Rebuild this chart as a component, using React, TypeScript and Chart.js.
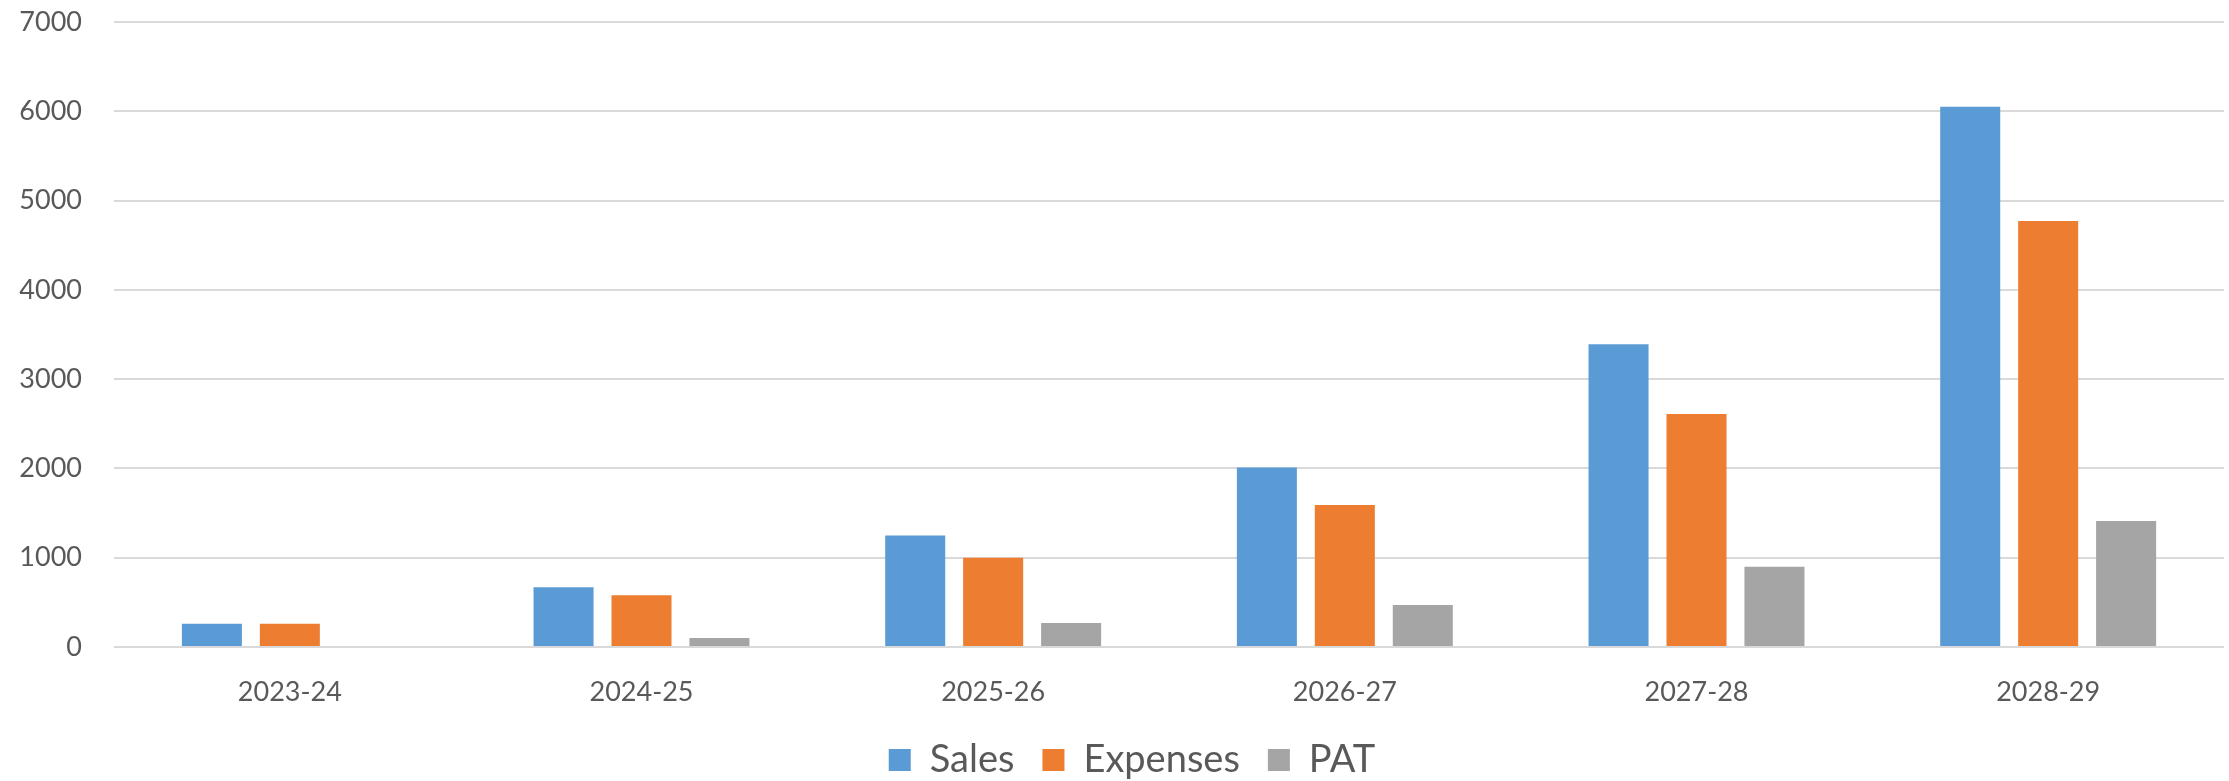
import React, { useEffect, useRef } from "react";
import { Chart, registerables } from "chart.js";

Chart.register(...registerables);

const categories = ["2023-24", "2024-25", "2025-26", "2026-27", "2027-28", "2028-29"];
const sales = [260, 670, 1250, 2010, 3390, 6050];
const expenses = [260, 580, 1000, 1590, 2610, 4770];
const pat = [0, 100, 270, 470, 900, 1410];
const yTicks = [0, 1000, 2000, 3000, 4000, 5000, 6000, 7000];

const TEXT = "#595959";
const FONT = "Lato";

const legendShift = {
  id: "legendShift",
  beforeDraw(chart: any) {
    if (chart.legend) {
      chart.legend.left = 40;
    }
  },
};

export default function App() {
  const ref = useRef<HTMLCanvasElement | null>(null);

  useEffect(() => {
    document.body.style.margin = "0";
    document.body.style.overflow = "hidden";
    const canvas = ref.current;
    if (!canvas) return;
    const chart = new Chart(canvas, {
      type: "bar",
      data: {
        labels: categories,
        datasets: [
          { label: "Sales", data: sales, backgroundColor: "#5B9BD5" },
          { label: "Expenses", data: expenses, backgroundColor: "#ED7D31" },
          { label: "PAT", data: pat, backgroundColor: "#A5A5A5" },
        ],
      },
      options: {
        animation: false,
        responsive: false,
        devicePixelRatio: 1,
        layout: { padding: { left: 0, right: 5, top: 22, bottom: 0 } },
        datasets: { bar: { categoryPercentage: 0.665, barPercentage: 0.77 } },
        scales: {
          x: {
            grid: { display: false },
            border: { display: false },
            ticks: { color: TEXT, font: { family: FONT, size: 27 }, padding: 21, maxRotation: 0 },
            afterFit: (s: any) => {
              s.height = 66;
            },
          },
          y: {
            min: 0,
            max: 7000,
            afterBuildTicks: (axis: any) => {
              axis.ticks = yTicks.map((v) => ({ value: v }));
            },
            ticks: {
              color: TEXT,
              font: { family: FONT, size: 27 },
              padding: 32,
              callback: (v: any) => String(v),
            },
            grid: { color: "#D9D9D9", lineWidth: 2, drawTicks: false },
            border: { display: false },
            afterFit: (s: any) => {
              s.width = 114;
              s.paddingTop = 0;
              s.paddingBottom = 0;
            },
          },
        },
        plugins: {
          legend: {
            position: "bottom",
            maxHeight: 68,
            labels: {
              boxWidth: 22,
              boxHeight: 22,
              padding: 28,
              color: TEXT,
              font: { family: FONT, size: 38 },
            },
          },
          tooltip: { enabled: false },
        },
      },
      plugins: [legendShift],
    });
    return () => chart.destroy();
  }, []);

  return <canvas ref={ref} width={2229} height={781} style={{ display: "block" }} />;
}
